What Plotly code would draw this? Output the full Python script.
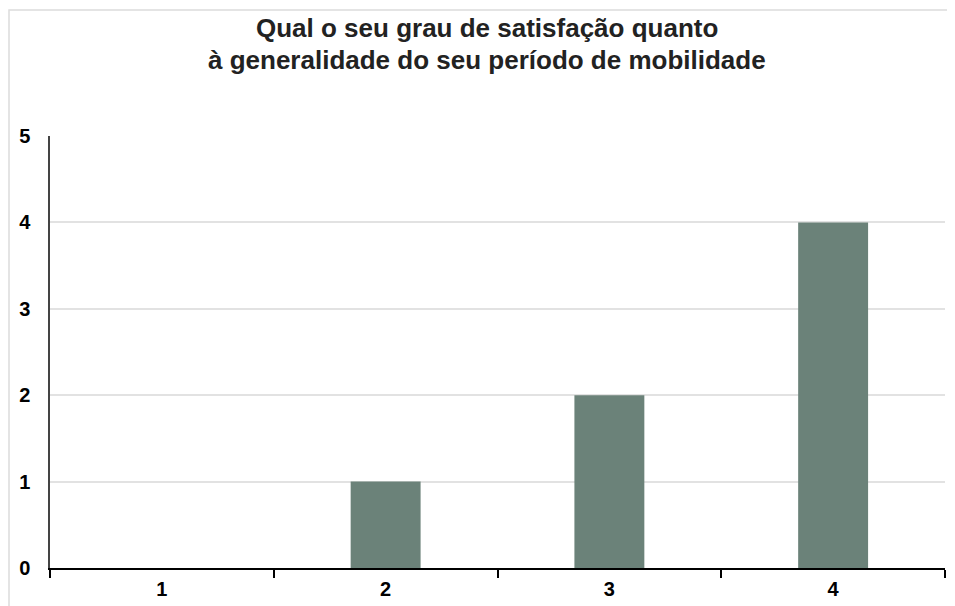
import plotly.graph_objects as go

categories = ["1", "2", "3", "4"]
values = [0, 1, 2, 4]
y_ticks = [0, 1, 2, 3, 4, 5]
title_lines = ["Qual o seu grau de satisfação quanto", "à generalidade do seu período de mobilidade"]

# page has an 8px body margin; size figure so it fits the 955x606 window
OFF = 8
W, H = 955 - OFF, 606 - OFF
L, R, T, B = 50 - OFF, 10, 136 - OFF, 38
pw, ph = W - L - R, H - T - B

def px_x(x):  # screenshot pixel -> paper x
    return (x - OFF - L) / pw

def px_y(y):  # screenshot pixel -> paper y
    return (H - B - (y - OFF)) / ph

FONT = "Arial, Liberation Sans, sans-serif"

fig = go.Figure(go.Bar(x=categories, y=values, marker=dict(color="#6b8279", line=dict(width=0))))

fig.update_layout(
    width=W, height=H,
    margin=dict(l=L, r=R, t=T, b=B, autoexpand=False),
    paper_bgcolor="white", plot_bgcolor="white",
    bargap=0.6875,
    showlegend=False,
    font=dict(family=FONT, color="#000"),
)

for i, line in enumerate(title_lines):
    fig.add_annotation(
        text="<b>" + line + "</b>", showarrow=False,
        xref="paper", yref="paper",
        x=px_x(487), y=px_y(28 + 31.5 * i),
        xanchor="center", yanchor="middle",
        font=dict(size=26, color="#222", family=FONT),
    )

fig.update_xaxes(
    type="category",
    tickson="boundaries",
    ticks="outside", ticklen=8, tickwidth=1.5, tickcolor="#000",
    showline=True, linecolor="#000", linewidth=1.5,
    showgrid=False,
    tickfont=dict(size=20, color="#000", family=FONT, weight="bold"),
    ticklabelstandoff=2,
)
fig.update_yaxes(
    range=[0, 5], tickvals=y_ticks,
    showline=True, linecolor="#444", linewidth=1.5,
    showgrid=True, gridcolor="#e2e2e2", gridwidth=1.5,
    zeroline=False,
    ticks="", ticklabelstandoff=14,
    tickfont=dict(size=20, color="#000", family=FONT, weight="bold"),
)

# outer light border
fig.add_shape(
    type="rect", xref="paper", yref="paper",
    x0=px_x(9), x1=px_x(952),
    y0=px_y(640), y1=px_y(10),
    line=dict(color="#dcdcdc", width=1.5), fillcolor="rgba(0,0,0,0)", layer="below",
)

fig.write_html("out.html")
